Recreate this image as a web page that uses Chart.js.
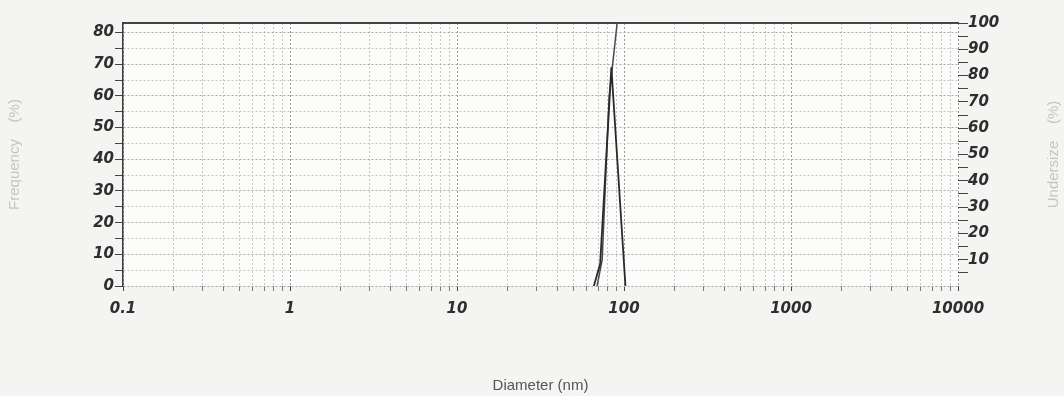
<!DOCTYPE html>
<html>
<head>
<meta charset="utf-8">
<script src="https://cdn.jsdelivr.net/npm/chart.js@4"></script>
<style>
    html, body { margin: 0; padding: 0; background: #f4f4f2; }
    #wrap { width: 1064px; height: 396px; }
</style>
</head>
<body>
<div id="wrap"><canvas id="chart" width="1064" height="396"></canvas></div>
<script>
// frequency curve (diameter in nm, frequency in %)
const freqSize = [66, 72, 84, 102];
const freqValue = [0, 7, 69, 0];

// cumulative undersize curve (diameter in nm, undersize in %)
const cumSize = [69, 74, 81.5, 91, 10000];
const cumValue = [0, 10, 72, 100, 100];

// axis tick labels
const decades = [0.1, 1, 10, 100, 1000, 10000];
const decadeLabels = ['0.1', '1', '10', '100', '1000', '10000'];
const leftLabels = [0, 10, 20, 30, 40, 50, 60, 70, 80];
const rightLabels = [10, 20, 30, 40, 50, 60, 70, 80, 90, 100];

const tickFont = { family: '"DejaVu Sans", sans-serif', size: 15, weight: 'bold', style: 'italic' };
const titleFont = { family: '"Liberation Sans", Arial, sans-serif', size: 15 };

// every 1..9 step of each decade, for the log grid
let xTicks = [];
decades.forEach(function (d, i) {
    if (i === decades.length - 1) {
        xTicks.push(d);
        return;
    }
    for (let m = 1; m < 10; m++) {
        xTicks.push(+(d * m).toPrecision(3));
    }
});

function isDecade(v) {
    return decades.some(d => Math.abs(d - v) < d * 1e-6);
}

function toPoints(xs, ys) {
    return xs.map((x, i) => ({ x: x, y: ys[i] }));
}

// right axis title reads bottom to top like the left one
const rightTitle = {
    id: 'rightTitle',
    afterDraw(chart) {
        const ctx = chart.ctx;
        const area = chart.chartArea;
        ctx.save();
        ctx.translate(chart.width - 10, (area.top + area.bottom) / 2);
        ctx.rotate(-Math.PI / 2);
        ctx.fillStyle = '#c4c6c2';
        ctx.font = '15px "Liberation Sans", Arial, sans-serif';
        ctx.textAlign = 'center';
        ctx.textBaseline = 'middle';
        ctx.fillText('Undersize    (%)', 0, 0);
        ctx.restore();
    }
};

const areaFill = {
    id: 'areaFill',
    beforeDraw(chart) {
        const a = chart.chartArea;
        chart.ctx.save();
        chart.ctx.fillStyle = '#fcfcfb';
        chart.ctx.fillRect(a.left, a.top, a.right - a.left, a.bottom - a.top);
        chart.ctx.restore();
    }
};

const chart = new Chart(document.getElementById('chart'), {
    type: 'line',
    data: {
        datasets: [
            {
                label: 'Frequency',
                data: toPoints(freqSize, freqValue),
                yAxisID: 'y',
                borderColor: '#2a2a2a',
                borderWidth: 1.8,
                pointRadius: 0,
                tension: 0
            },
            {
                label: 'Undersize',
                data: toPoints(cumSize, cumValue),
                yAxisID: 'y2',
                borderColor: '#4a4a4a',
                borderWidth: 1.5,
                pointRadius: 0,
                tension: 0
            }
        ]
    },
    options: {
        responsive: false,
        animation: false,
        layout: { padding: { top: 23, left: 0, right: 0, bottom: 0 } },
        plugins: {
            legend: { display: false },
            tooltip: { enabled: false }
        },
        scales: {
            x: {
                type: 'logarithmic',
                position: 'bottom',
                min: 0.1,
                max: 10000,
                afterBuildTicks: function (scale) {
                    scale.ticks = xTicks.map(v => ({ value: v }));
                },
                afterFit: function (scale) { scale.height = 110; },
                ticks: {
                    autoSkip: false,
                    maxRotation: 0,
                    padding: 9,
                    color: '#2e2e2e',
                    font: tickFont,
                    callback: function (value) {
                        const i = decades.findIndex(d => Math.abs(d - value) < d * 1e-6);
                        return i >= 0 ? decadeLabels[i] : '';
                    }
                },
                grid: {
                    color: ctx => (ctx.tick && isDecade(ctx.tick.value)) ? '#9a9a9a' : '#c6c6c6',
                    tickColor: ctx => (ctx.tick && isDecade(ctx.tick.value)) ? '#444' : '#777',
                    tickLength: 5,
                    lineWidth: 1
                },
                border: { display: false, dash: [2, 2] },
                title: {
                    display: true,
                    text: 'Diameter (nm)',
                    color: '#555',
                    font: titleFont,
                    padding: { top: 0, bottom: 1 }
                }
            },
            xTop: {
                type: 'logarithmic',
                position: 'top',
                min: 0.1,
                max: 10000,
                afterFit: function (scale) { scale.height = 0; },
                ticks: { display: false },
                grid: { display: false, drawTicks: false },
                border: { display: true, color: '#444', width: 2 }
            },
            y: {
                position: 'left',
                min: 0,
                max: 83,
                afterFit: function (scale) { scale.width = 123; },
                afterBuildTicks: function (scale) {
                    let t = [];
                    for (let v = 0; v <= 80; v += 5) t.push({ value: v });
                    scale.ticks = t;
                },
                ticks: {
                    autoSkip: false,
                    padding: 1,
                    color: '#2e2e2e',
                    font: tickFont,
                    callback: v => leftLabels.includes(v) ? String(v) : ''
                },
                grid: {
                    color: ctx => (ctx.tick && ctx.tick.value % 10 === 0) ? '#a8a8a8' : '#c8c8c8',
                    tickColor: '#444',
                    tickLength: 8
                },
                border: { display: true, color: '#3a3a3a', width: 1.5, dash: [2, 2] },
                title: {
                    display: true,
                    text: 'Frequency    (%)',
                    color: '#c4c6c2',
                    font: titleFont,
                    padding: { top: 6, bottom: 0 }
                }
            },
            y2: {
                position: 'right',
                min: 0,
                max: 100,
                afterFit: function (scale) { scale.width = 106; },
                afterBuildTicks: function (scale) {
                    let t = [];
                    for (let v = 5; v <= 100; v += 5) t.push({ value: v });
                    scale.ticks = t;
                },
                ticks: {
                    autoSkip: false,
                    padding: 0,
                    color: '#2e2e2e',
                    font: tickFont,
                    callback: v => rightLabels.includes(v) ? String(v) : ''
                },
                grid: {
                    drawOnChartArea: false,
                    tickColor: '#444',
                    tickLength: 10
                },
                border: { display: false }
            }
        }
    },
    plugins: [areaFill, rightTitle]
});
</script>
</body>
</html>
